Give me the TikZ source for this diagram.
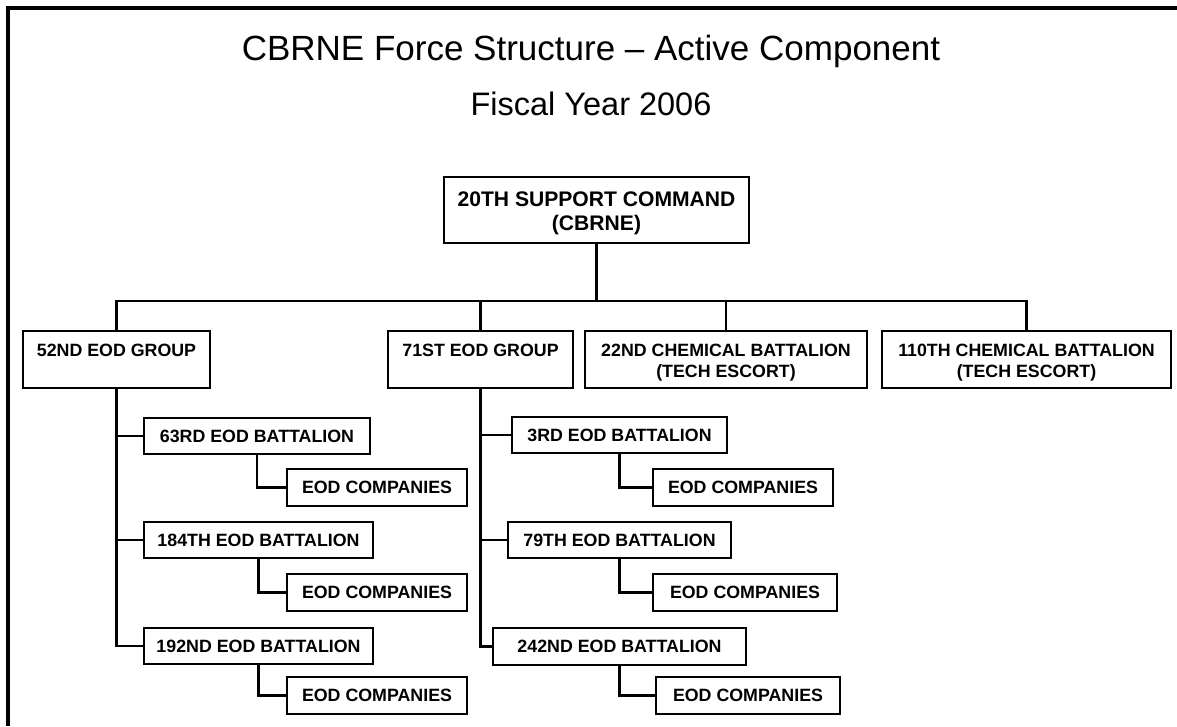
\documentclass[tikz,border=0pt]{standalone}
\usepackage{fontspec}
\setmainfont{Liberation Sans}
\begin{document}
\begin{tikzpicture}[x=1pt,y=-1pt,
  unit/.style={draw, line width=2.2pt, fill=white, inner sep=0pt, align=center,
    font=\fontsize{17.8}{21}\selectfont\bfseries},
  topbox/.style={unit, font=\fontsize{21.1}{24}\selectfont\bfseries,
    text height=41pt, text depth=0.2pt},
  grp/.style={unit, minimum height=57pt, text height=36pt, text depth=0.2pt},
  bat/.style={unit, minimum height=36pt},
  comp/.style={unit, minimum height=37pt, minimum width=180pt},
  link/.style={line width=2.2pt},
  ttl/.style={inner sep=0pt, text height=25pt, text depth=0pt}
]
\useasboundingbox (0,0) rectangle (1177,726);
\fill[white] (0,0) rectangle (1177,726);
\draw[line width=4pt] (8,726) -- (8,8) -- (1177,8);

\node[ttl, font=\fontsize{35}{40}\selectfont] (title) at (591,48) {CBRNE Force Structure – Active Component};
\node[ttl, font=\fontsize{32.5}{40}\selectfont, text height=23.3pt] (fy) at (591,104) {Fiscal Year 2006};

\node[topbox, minimum width=305pt, minimum height=66pt] (top) at (596.5,210) {20TH SUPPORT COMMAND\\(CBRNE)};

\node[grp, minimum width=187pt] (g52) at (116.5,359.5) {52ND EOD GROUP\\\strut};
\node[grp, minimum width=185pt] (g71) at (480.5,359.5) {71ST EOD GROUP\\\strut};
\node[grp, minimum width=282pt] (c22) at (726,359.5) {22ND CHEMICAL BATTALION\\(TECH ESCORT)};
\node[grp, minimum width=289pt] (c110) at (1026.5,359.5) {110TH CHEMICAL BATTALION\\(TECH ESCORT)};

\node[bat, minimum width=226pt] (b63) at (257,436) {63RD EOD BATTALION};
\node[comp] (e63) at (377,487.5) {EOD COMPANIES};
\node[bat, minimum width=229pt] (b184) at (258.5,540) {184TH EOD BATTALION};
\node[comp] (e184) at (377,592.5) {EOD COMPANIES};
\node[bat, minimum width=229pt] (b192) at (258.5,646) {192ND EOD BATTALION};
\node[comp] (e192) at (377,695.5) {EOD COMPANIES};

\node[bat, minimum width=215pt] (b3) at (619.5,435) {3RD EOD BATTALION};
\node[comp] (e3) at (743,487.5) {EOD COMPANIES};
\node[bat, minimum width=223pt] (b79) at (619.5,540) {79TH EOD BATTALION};
\node[comp, minimum width=184pt] (e79) at (745,592.5) {EOD COMPANIES};
\node[bat, minimum width=253pt, minimum height=37pt] (b242) at (619.5,646.5) {242ND EOD BATTALION};
\node[comp, minimum width=184pt] (e242) at (748,695.5) {EOD COMPANIES};

\coordinate (bus) at (596.5,301);
\draw[link] (top.south) -- (bus);
\draw[link] (g52.north) |- (bus) -| (c110.north);
\draw[link] (g71.north) -- (g71.north |- bus);
\draw[link] (c22.north) -- (c22.north |- bus);

\draw[link] (g52.south) |- (b192.west);
\draw[link] (g52.south |- b63.west) -- (b63.west);
\draw[link] (g52.south |- b184.west) -- (b184.west);
\draw[link] (g71.south) |- (b242.west);
\draw[link] (g71.south |- b3.west) -- (b3.west);
\draw[link] (g71.south |- b79.west) -- (b79.west);

\draw[link] (b63.south) |- (e63.west);
\draw[link] (b184.south) |- (e184.west);
\draw[link] (b192.south) |- (e192.west);
\draw[link] (b3.south) |- (e3.west);
\draw[link] (b79.south) |- (e79.west);
\draw[link] (b242.south) |- (e242.west);
\end{tikzpicture}
\end{document}
